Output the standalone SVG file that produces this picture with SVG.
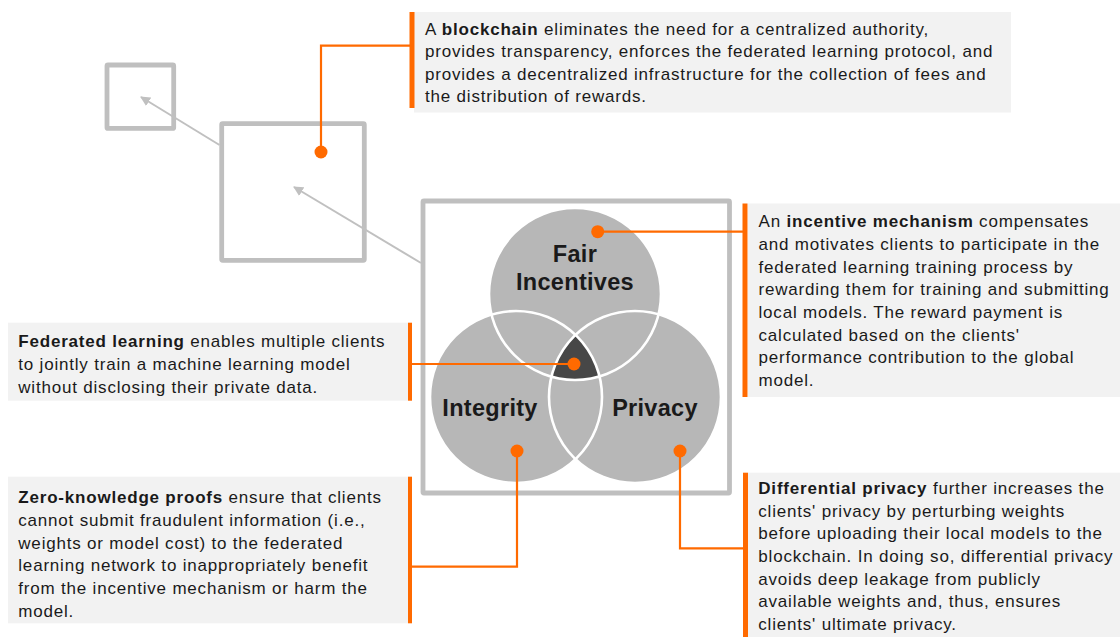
<svg xmlns="http://www.w3.org/2000/svg" width="1120" height="637" viewBox="0 0 1120 637">
  <style>
    text { font-family: "Liberation Sans", Arial, sans-serif; fill: #1a1a1a; }
    .body { font-size: 17px; letter-spacing: 0.8px; }
    .b { font-weight: bold; }
    .label { font-size: 23.5px; font-weight: bold; text-anchor: middle; letter-spacing: 0.3px; }
    .frame { fill: none; stroke: #bfbfbf; stroke-width: 4.8; }
    .panel { fill: #f2f2f2; }
    .bar { fill: #ff6a00; }
    .lead { fill: none; stroke: #ff6a00; stroke-width: 2.2; }
    .dot { fill: #ff6a00; }
    .zoomline { stroke: #c0c0c0; stroke-width: 2; marker-end: url(#tip); }
    .set { fill: #b7b7b7; }
    .rim { fill: none; stroke: #ffffff; stroke-width: 2.6; }
  </style>
  <defs>
    <marker id="tip" viewBox="0 0 10 10" refX="9" refY="5" markerWidth="5" markerHeight="5" orient="auto" markerUnits="strokeWidth">
      <path d="M0,0 L10,5 L0,10 Z" fill="#c0c0c0"/>
    </marker>
  </defs>

  <!-- nested frames zooming out from the Venn diagram -->
  <g id="frames">
    <rect class="frame" x="107" y="65" width="66.7" height="63.4" rx="1"/>
    <rect class="frame" x="221.7" y="123.7" width="142.6" height="136.6" rx="1"/>
    <rect class="frame" x="423" y="201" width="306.5" height="292" rx="1"/>
  </g>
  <g id="zoom-links">
    <line class="zoomline" x1="421" y1="263" x2="294" y2="187"/>
    <line class="zoomline" x1="219.5" y1="145" x2="141" y2="97"/>
  </g>

  <!-- Venn diagram -->
  <g id="venn">
    <circle class="set" cx="575" cy="294" r="86"/>
    <circle class="set" cx="516" cy="397" r="86"/>
    <circle class="set" cx="635" cy="397" r="86"/>
    <path d="M575.5,335 A86,86 0 0 1 599.4,376.4 A86,86 0 0 1 550.6,376.4 A86,86 0 0 1 575.5,335 Z" fill="#474747"/>
    <circle class="rim" cx="575" cy="294" r="86"/>
    <circle class="rim" cx="516" cy="397" r="86"/>
    <circle class="rim" cx="635" cy="397" r="86"/>
    <g id="fair-incentives">
      <text class="label" x="575" y="262">Fair</text>
      <text class="label" x="575" y="290">Incentives</text>
    </g>
    <g id="integrity">
      <text class="label" x="490" y="416">Integrity</text>
    </g>
    <g id="privacy">
      <text class="label" x="655" y="416">Privacy</text>
    </g>
  </g>

  <!-- leader lines -->
  <g id="connectors">
    <polyline class="lead" points="321,152 321,45.7 410,45.7"/>
    <circle class="dot" cx="321" cy="152" r="6.5"/>
    <line class="lead" x1="597.7" y1="231.7" x2="743" y2="231.7"/>
    <circle class="dot" cx="597.7" cy="231.7" r="6.5"/>
    <line class="lead" x1="412" y1="364" x2="574" y2="364"/>
    <circle class="dot" cx="574" cy="364" r="6.5"/>
    <polyline class="lead" points="517,451 517,566.7 412,566.7"/>
    <circle class="dot" cx="517" cy="451" r="6.5"/>
    <polyline class="lead" points="680,451 680,548.3 744,548.3"/>
    <circle class="dot" cx="680" cy="451" r="6.5"/>
  </g>

  <!-- annotation panels -->
  <g id="blockchain">
    <rect class="panel" x="414" y="12" width="597" height="100.5"/>
    <rect class="bar" x="409.5" y="12" width="5" height="96"/>
    <text class="body" x="425" y="34.5">A <tspan class="b">blockchain</tspan> eliminates the need for a centralized authority,</text>
    <text class="body" x="425" y="57">provides transparency, enforces the federated learning protocol, and</text>
    <text class="body" x="425" y="79.5">provides a decentralized infrastructure for the collection of fees and</text>
    <text class="body" x="425" y="102">the distribution of rewards.</text>
  </g>

  <g id="incentive-mechanism">
    <rect class="panel" x="748" y="203.5" width="372" height="193.5"/>
    <rect class="bar" x="742.5" y="203.5" width="5" height="193.5"/>
    <text class="body" x="758.5" y="227.3">An <tspan class="b">incentive mechanism</tspan> compensates</text>
    <text class="body" x="758.5" y="250">and motivates clients to participate in the</text>
    <text class="body" x="758.5" y="272.7">federated learning training process by</text>
    <text class="body" x="758.5" y="295.3">rewarding them for training and submitting</text>
    <text class="body" x="758.5" y="318">local models. The reward payment is</text>
    <text class="body" x="758.5" y="340.7">calculated based on the clients'</text>
    <text class="body" x="758.5" y="363.3">performance contribution to the global</text>
    <text class="body" x="758.5" y="386">model.</text>
  </g>

  <g id="federated-learning">
    <rect class="panel" x="8" y="322.7" width="400" height="78"/>
    <rect class="bar" x="408" y="322.7" width="4" height="78"/>
    <text class="body" x="18.3" y="347.3"><tspan class="b">Federated learning</tspan> enables multiple clients</text>
    <text class="body" x="18.3" y="370">to jointly train a machine learning model</text>
    <text class="body" x="18.3" y="392.5">without disclosing their private data.</text>
  </g>

  <g id="zero-knowledge">
    <rect class="panel" x="8" y="476.7" width="400" height="146.6"/>
    <rect class="bar" x="408" y="476.7" width="4" height="146.6"/>
    <text class="body" x="18.3" y="503.3"><tspan class="b">Zero-knowledge proofs</tspan> ensure that clients</text>
    <text class="body" x="18.3" y="526">cannot submit fraudulent information (i.e.,</text>
    <text class="body" x="18.3" y="548.7">weights or model cost) to the federated</text>
    <text class="body" x="18.3" y="571.3">learning network to inappropriately benefit</text>
    <text class="body" x="18.3" y="594">from the incentive mechanism or harm the</text>
    <text class="body" x="18.3" y="616.7">model.</text>
  </g>

  <g id="differential-privacy">
    <rect class="panel" x="748" y="472.7" width="372" height="164.3"/>
    <rect class="bar" x="743" y="472.7" width="5" height="164.3"/>
    <text class="body" x="758.3" y="494"><tspan class="b">Differential privacy</tspan> further increases the</text>
    <text class="body" x="758.3" y="516.7">clients' privacy by perturbing weights</text>
    <text class="body" x="758.3" y="539.3">before uploading their local models to the</text>
    <text class="body" x="758.3" y="562">blockchain. In doing so, differential privacy</text>
    <text class="body" x="758.3" y="584.5">avoids deep leakage from publicly</text>
    <text class="body" x="758.3" y="607">available weights and, thus, ensures</text>
    <text class="body" x="758.3" y="629.5">clients' ultimate privacy.</text>
  </g>
</svg>
